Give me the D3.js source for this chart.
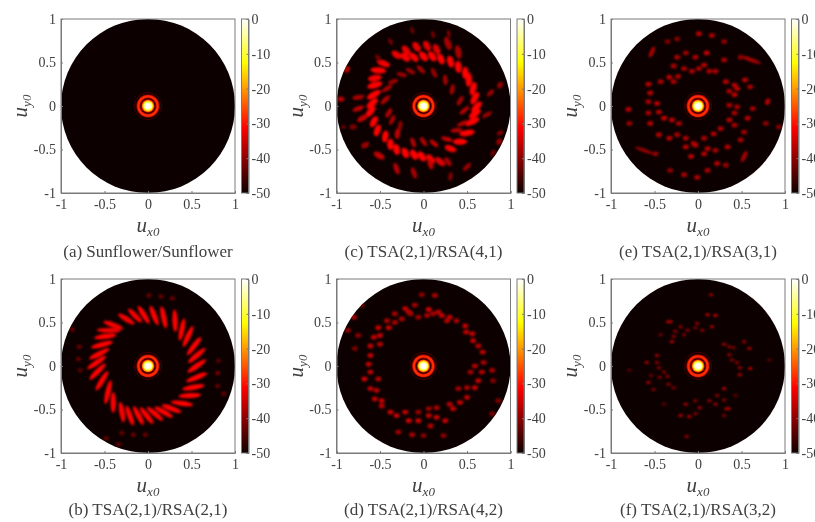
<!DOCTYPE html>
<html>
<head>
<meta charset="utf-8">
<script src="https://cdn.jsdelivr.net/npm/d3@7"></script>
<style>
  html, body { margin: 0; padding: 0; background: #fff; overflow: hidden; }
  svg { display: block; filter: blur(0.35px); font-family: "Liberation Serif", serif; }
</style>
</head>
<body>
<div id="chart"></div>
<script>
// tick labels
const uTicks = [-1, -0.5, 0, 0.5, 1];
const dbTicks = [0, -10, -20, -30, -40, -50];

// main beam and first rings, radius in u and level in dB (same for every panel)
const beamRadius = [0.17, 0.16, 0.15, 0.135, 0.124, 0.108, 0.097, 0.087, 0.078, 0.068, 0.056, 0.044, 0.03];
const beamLevel = [-50, -46, -50, -40, -28, -28, -40, -50, -34, -20, -11, -4, 0];

// grating lobes: [ux, uy, dB, half length, half width, rotation deg]
const lobesA = [];

const lobesB = [
  [0.56, 0.00, -31, 0.13, 0.03, 35], [0.56, 0.12, -31, 0.13, 0.03, 40], [0.53, 0.23, -31, 0.13, 0.03, 52],
  [0.46, 0.34, -31, 0.13, 0.03, 65], [0.39, 0.42, -31, 0.13, 0.03, 78], [0.31, 0.52, -31, 0.13, 0.03, 92],
  [0.18, 0.56, -31, 0.13, 0.03, 102], [0.07, 0.58, -31, 0.12, 0.03, 112], [-0.05, 0.59, -31, 0.12, 0.03, 122],
  [-0.15, 0.58, -32, 0.11, 0.03, 135], [-0.25, 0.54, -32, 0.11, 0.03, 148], [-0.40, 0.47, -32, 0.12, 0.03, 160],
  [-0.45, 0.41, -32, 0.14, 0.026, 178], [-0.49, 0.34, -31, 0.13, 0.03, 8], [-0.53, 0.245, -31, 0.13, 0.03, 15],
  [-0.56, 0.14, -31, 0.13, 0.03, 27], [-0.59, 0.04, -31, 0.13, 0.03, 35], [-0.58, -0.065, -31, 0.13, 0.03, 45],
  [-0.53, -0.17, -31, 0.13, 0.03, 58], [-0.46, -0.30, -31, 0.14, 0.03, 77], [-0.40, -0.42, -31, 0.12, 0.03, 90],
  [-0.30, -0.53, -31, 0.12, 0.03, 100], [-0.21, -0.57, -31, 0.12, 0.03, 110], [-0.11, -0.57, -31, 0.12, 0.03, 118],
  [-0.015, -0.57, -31, 0.12, 0.03, 128], [0.08, -0.55, -31, 0.12, 0.03, 140], [0.18, -0.53, -31, 0.12, 0.03, 150],
  [0.27, -0.49, -31, 0.12, 0.03, 160], [0.39, -0.43, -31, 0.13, 0.03, 172], [0.48, -0.34, -31, 0.13, 0.03, 3],
  [0.52, -0.245, -31, 0.13, 0.03, 10], [0.56, -0.13, -31, 0.13, 0.03, 22],
  [0.01, 0.81, -43], [0.15, 0.80, -43], [0.28, 0.78, -43], [-0.87, 0.42, -43], [-0.79, 0.22, -43], [-0.80, 0.08, -43],
  [0.80, -0.08, -42], [0.80, -0.23, -43], [0.87, -0.32, -43], [-0.17, -0.79, -43], [-0.03, -0.79, -43], [-0.30, -0.77, -43],
  [-0.34, -0.90, -43], [-0.48, -0.83, -43], [-0.78, -0.05, -44], [0.81, 0.06, -44]
];

const lobesC = [
  [-0.20, 0.64, -33, 0.065, 0.038, 130], [-0.08, 0.68, -33, 0.065, 0.038, 125], [0.04, 0.69, -34, 0.065, 0.038, 120],
  [0.15, 0.65, -34, 0.065, 0.038, 115], [0.28, 0.72, -38, 0.08, 0.036, 110], [0.40, 0.62, -38, 0.08, 0.036, 100],
  [-0.31, 0.59, -33, 0.065, 0.038, 145], [-0.21, 0.56, -32, 0.065, 0.038, 140], [-0.11, 0.56, -32, 0.065, 0.038, 135],
  [0, 0.57, -31, 0.065, 0.038, 130], [0.10, 0.57, -31, 0.065, 0.038, 125], [0.20, 0.54, -31, 0.065, 0.038, 115],
  [0.31, 0.51, -31, 0.07, 0.038, 105], [0.40, 0.45, -31, 0.07, 0.038, 95], [0.48, 0.38, -31, 0.07, 0.038, 90],
  [0.52, 0.30, -31, 0.08, 0.036, 85], [0.57, 0.20, -31, 0.08, 0.036, 75], [0.59, 0.09, -31, 0.08, 0.036, 60],
  [0.61, -0.01, -31, 0.08, 0.036, 45], [0.59, -0.09, -31, 0.08, 0.036, 35], [0.56, -0.18, -31, 0.09, 0.036, 25],
  [0.50, -0.31, -31, 0.09, 0.036, 10], [0.42, -0.41, -31, 0.08, 0.036, 0], [0.31, -0.49, -32, 0.07, 0.036, 160],
  [0.19, -0.64, -34, 0.07, 0.036, 140], [0.08, -0.61, -32, 0.065, 0.038, 130], [-0.02, -0.58, -31, 0.065, 0.038, 125],
  [-0.11, -0.56, -31, 0.065, 0.038, 120], [-0.21, -0.54, -31, 0.065, 0.038, 115], [-0.31, -0.50, -31, 0.065, 0.038, 100],
  [-0.38, -0.44, -31, 0.065, 0.038, 90], [-0.44, -0.35, -31, 0.07, 0.036, 80], [-0.53, -0.28, -31, 0.07, 0.036, 70],
  [-0.57, -0.18, -31, 0.07, 0.036, 60], [-0.61, -0.065, -31, 0.08, 0.036, 50], [-0.59, 0.03, -31, 0.08, 0.036, 40],
  [-0.57, 0.13, -31, 0.09, 0.036, 30], [-0.56, 0.24, -31, 0.09, 0.036, 15], [-0.56, 0.32, -32, 0.08, 0.036, 10],
  [-0.52, 0.41, -31, 0.09, 0.036, 175], [-0.46, 0.49, -32, 0.08, 0.036, 160],
  [-0.35, 0.28, -39, 0.06, 0.025, 20], [-0.42, 0.20, -38, 0.07, 0.025, 30], [-0.44, 0.07, -37, 0.07, 0.025, 45],
  [-0.40, -0.08, -37, 0.06, 0.025, 60], [-0.36, -0.16, -38, 0.06, 0.025, 65], [-0.27, -0.23, -40, 0.06, 0.025, 80],
  [-0.30, -0.32, -36, 0.06, 0.03, 85], [-0.12, -0.42, -37, 0.06, 0.025, 110], [0, -0.41, -37, 0.06, 0.025, 125],
  [0.12, -0.43, -36, 0.06, 0.025, 140], [0.27, -0.38, -36, 0.07, 0.025, 165], [0.38, -0.28, -37, 0.07, 0.025, 5],
  [0.45, -0.20, -37, 0.07, 0.025, 25], [0.47, -0.05, -37, 0.07, 0.025, 40], [0.42, 0.06, -38, 0.06, 0.025, 60],
  [0.33, 0.19, -38, 0.06, 0.025, 80], [0.25, 0.30, -38, 0.06, 0.025, 95], [0.12, 0.38, -39, 0.06, 0.025, 115],
  [-0.03, 0.42, -38, 0.06, 0.025, 135], [-0.15, 0.40, -39, 0.06, 0.025, 150], [-0.25, 0.36, -39, 0.06, 0.025, 165],
  [-0.88, 0.42, -37, 0.04, 0.032, 60], [-0.95, 0.08, -37, 0.04, 0.03, 0], [-0.75, 0.10, -38, 0.07, 0.028, 10],
  [-0.75, -0.03, -37, 0.07, 0.028, 20], [-0.70, -0.14, -36, 0.07, 0.032, 30], [-0.81, -0.24, -41, 0.04, 0.03, 0],
  [-0.67, -0.45, -39, 0.05, 0.032, 30], [-0.52, 0.55, -41, 0.05, 0.02, 130], [-0.38, 0.74, -41, 0.04, 0.02, 120],
  [-0.13, 0.87, -42, 0.04, 0.02, 110], [0.11, 0.82, -41, 0.04, 0.02, 100], [0.29, 0.83, -41, 0.04, 0.02, 100],
  [0.77, 0.15, -39, 0.05, 0.025, 45], [0.88, 0.24, -39, 0.04, 0.03, 60], [0.73, -0.10, -39, 0.06, 0.025, 30],
  [0.88, -0.31, -41, 0.04, 0.025, 30], [0.87, -0.41, -39, 0.04, 0.03, 60], [0.80, -0.54, -42, 0.04, 0.025, 60],
  [0.50, -0.70, -39, 0.06, 0.025, 45], [0.31, -0.81, -41, 0.05, 0.025, 80], [-0.11, -0.77, -38, 0.07, 0.028, 110],
  [-0.31, -0.72, -37, 0.07, 0.03, 110], [-0.51, -0.57, -36, 0.07, 0.035, 150], [0.08, -0.67, -36, 0.06, 0.03, 110],
  [0.28, -0.64, -38, 0.06, 0.03, 125], [-0.92, -0.24, -42, 0.03, 0.02, 0]
];

const lobesD = [
  [-0.21, 0.66, -36], [-0.10, 0.70, -38], [0.06, 0.65, -35], [0.17, 0.62, -37], [0.30, 0.56, -36], [-0.17, 0.62, -36],
  [-0.06, 0.56, -39], [-0.33, 0.60, -38], [-0.42, 0.52, -38], [0.13, 0.81, -38], [-0.02, 0.82, -40], [-0.52, 0.44, -36],
  [-0.40, 0.44, -36], [-0.33, 0.50, -38], [-0.25, 0.54, -38], [-0.15, 0.60, -38], [0.04, 0.58, -38], [0.11, 0.60, -38],
  [0.21, 0.58, -36], [0.27, 0.52, -37], [0.38, 0.52, -38], [0.48, 0.46, -36], [0.49, 0.39, -36], [0.56, 0.37, -36],
  [0.57, 0.29, -36], [0.63, 0.23, -37], [0.68, 0.16, -36], [0.69, 0.04, -38], [-0.50, 0.35, -36], [-0.57, 0.33, -36],
  [-0.61, 0.23, -36], [-0.50, 0.25, -37], [-0.61, 0.12, -36], [-0.63, 0.02, -36], [-0.68, -0.15, -35], [-0.61, -0.07, -36],
  [-0.61, -0.26, -36], [-0.54, -0.28, -36], [-0.52, -0.15, -37], [-0.56, -0.38, -36], [-0.48, -0.40, -36], [-0.48, -0.46, -37],
  [-0.38, -0.53, -35], [-0.31, -0.57, -35], [-0.21, -0.53, -36], [-0.17, -0.63, -35], [-0.06, -0.63, -35], [0.06, -0.57, -36],
  [0.15, -0.59, -35], [0.25, -0.63, -36], [0.34, -0.49, -36], [0.42, -0.42, -36], [0.50, -0.36, -36], [0.59, -0.25, -36],
  [0.63, -0.17, -36], [0.67, -0.07, -37], [0.59, 0, -37], [0.54, -0.07, -38], [0.79, -0.05, -38], [0.50, -0.25, -38],
  [0.40, -0.26, -38], [0.30, -0.44, -37], [0.15, -0.48, -38], [0.06, -0.49, -39], [-0.06, -0.53, -39],
  [-0.80, 0.56, -38], [-0.87, 0.41, -39], [-0.75, 0.35, -40], [-0.79, 0.20, -41], [0.86, -0.40, -41], [0.79, -0.55, -41],
  [0.23, -0.80, -40], [0, -0.80, -40], [-0.13, -0.79, -38], [-0.29, -0.76, -38], [-0.71, 0.70, -42], [0.80, -0.17, -41], [0.08, -0.69, -37]
];

const lobesE = [
  [0.01, 0.83, -37], [0.16, 0.81, -38], [-0.35, 0.74, -41], [-0.24, 0.77, -41], [0.30, 0.74, -40],
  [-0.53, 0.62, -38, 0.07, 0.025, 65], [0.10, 0.61, -36], [-0.14, 0.61, -39], [-0.24, 0.56, -38], [-0.03, 0.56, -38],
  [0.30, 0.53, -38], [0.61, 0.53, -38, 0.12, 0.022, 160], [0.49, 0.56, -40], [0.07, 0.47, -37], [0.01, 0.43, -38],
  [-0.07, 0.40, -38], [-0.16, 0.43, -38], [-0.28, 0.46, -38], [-0.33, 0.33, -37], [-0.23, 0.34, -38], [-0.28, 0.28, -38],
  [-0.57, 0.25, -37], [-0.55, 0.15, -37], [-0.43, 0.28, -38], [0.32, 0.28, -37], [0.42, 0.24, -37], [0.54, 0.30, -37],
  [0.45, 0.20, -37], [0.42, 0.13, -37], [0.36, 0.17, -38], [0.60, 0.22, -38], [0.20, 0.40, -38], [0.13, 0.40, -38],
  [-0.80, -0.04, -37], [-0.79, -0.20, -39], [-0.47, 0.03, -37], [-0.45, -0.07, -37], [-0.39, -0.14, -36], [-0.30, -0.16, -37],
  [-0.22, -0.20, -38], [-0.57, 0.05, -38], [-0.57, -0.08, -38], [-0.55, -0.20, -37], [-0.45, -0.33, -37], [-0.33, -0.37, -37],
  [-0.24, -0.33, -38], [-0.14, -0.37, -38], [-0.05, -0.43, -37], [0.07, -0.37, -38], [0.18, -0.32, -37], [0.26, -0.26, -37],
  [0.36, -0.16, -37], [0.42, -0.08, -38], [0.45, -0.01, -38], [0.36, 0.01, -38], [0.57, -0.14, -37], [0.53, -0.30, -38],
  [0.49, -0.39, -38], [0.63, -0.03, -38], [0.80, 0.05, -37, 0.04, 0.028, 70], [0.78, -0.20, -40], [-0.14, -0.47, -37],
  [-0.03, -0.45, -37], [0.11, -0.49, -37], [-0.08, -0.58, -37], [0.07, -0.55, -37], [0.20, -0.51, -38], [0.34, -0.47, -37],
  [-0.49, -0.55, -39], [-0.62, -0.51, -39, 0.11, 0.02, 160], [0.53, -0.58, -38, 0.07, 0.025, 65], [0.22, -0.66, -37],
  [0.11, -0.74, -38], [-0.01, -0.82, -37], [-0.16, -0.79, -38], [-0.32, -0.74, -40], [0.32, -0.68, -39], [0.93, -0.24, -41], [0.42, -0.22, -38]
];

const lobesF = [
  [0.15, 0.82, -40], [0.11, 0.59, -38], [0.20, 0.58, -37], [-0.33, 0.51, -38, 0.04, 0.02, 0], [-0.01, 0.49, -40], [-0.20, 0.45, -41],
  [-0.12, 0.41, -41], [-0.26, 0.40, -41], [0.16, 0.45, -39], [0.05, 0.41, -41], [-0.03, 0.44, -42], [-0.16, 0.36, -42],
  [-0.28, 0.34, -41], [-0.43, 0.36, -43], [-0.30, 0.28, -38], [0.30, 0.25, -40], [0.36, 0.22, -41], [0.41, 0.21, -42],
  [0.53, 0.28, -40], [0.59, 0.20, -39], [0.36, 0.13, -40], [0.39, 0.07, -41], [0.45, 0.04, -41], [0.48, -0.02, -40],
  [0.60, -0.03, -38], [0.48, -0.10, -38], [-0.47, 0.12, -39], [-0.47, 0.04, -41], [-0.45, -0.02, -41], [-0.59, 0.04, -39],
  [-0.79, -0.05, -44], [-0.54, -0.11, -43], [-0.44, -0.13, -41], [-0.39, -0.07, -41], [-0.35, -0.12, -41], [-0.34, -0.21, -41],
  [-0.57, -0.19, -39], [-0.51, -0.27, -41], [-0.28, -0.25, -41], [0.30, -0.26, -37], [0.22, -0.34, -41], [0.30, -0.39, -41],
  [0.34, -0.49, -38, 0.04, 0.02, 0], [0.13, -0.40, -40], [0.20, -0.44, -40], [-0.03, -0.40, -41], [-0.14, -0.44, -39],
  [0.02, -0.48, -39], [-0.20, -0.57, -38], [-0.10, -0.58, -38], [-0.03, -0.55, -41], [0.30, -0.57, -42], [-0.13, -0.81, -40],
  [0.82, 0.07, -44], [0.43, -0.34, -44], [-0.39, -0.44, -44]
];

const panelNames = [
  "(a) Sunflower/Sunflower", "(c) TSA(2,1)/RSA(4,1)", "(e) TSA(2,1)/RSA(3,1)",
  "(b) TSA(2,1)/RSA(2,1)", "(d) TSA(2,1)/RSA(4,2)", "(f) TSA(2,1)/RSA(3,2)"
];
const panelLobes = [lobesA, lobesC, lobesE, lobesB, lobesD, lobesF];
// half axes (u) of lobes that have no size of their own
const lobeRx = [0.03, 0.03, 0.034, 0.03, 0.034, 0.026];
const lobeRy = [0.03, 0.03, 0.028, 0.026, 0.028, 0.02];

// layout in pixels
const boxSize = 174, cbWidth = 7, cbGap = 6.5;
const boxX = [61, 336.5, 611], boxY = [19, 279];
const textColor = "#404040", frameColor = "#7a7a7a";

// MATLAB "hot" on -50..0 dB
const color = d3.scaleLinear()
    .domain([-50, -31.25, -12.5, 0])
    .range(["#0d0000", "#ff0000", "#ffff00", "#ffffff"])
    .clamp(true);

const svg = d3.select("#chart").append("svg")
    .attr("width", 815)
    .attr("height", 522);

const defs = svg.append("defs");
const blur = defs.append("filter").attr("id", "soft")
    .attr("x", "-5%").attr("y", "-5%").attr("width", "110%").attr("height", "110%");
blur.append("feGaussianBlur").attr("stdDeviation", 1.2);
const blurBeam = defs.append("filter").attr("id", "softBeam")
    .attr("x", "-20%").attr("y", "-20%").attr("width", "140%").attr("height", "140%");
blurBeam.append("feGaussianBlur").attr("stdDeviation", 0.5);

const grad = defs.append("linearGradient").attr("id", "hotbar")
    .attr("x1", 0).attr("y1", 1).attr("x2", 0).attr("y2", 0);
[-50, -31.25, -12.5, 0].forEach(function(d) {
    grad.append("stop").attr("offset", (d + 50) / 50).attr("stop-color", color(d));
});

panelNames.forEach(function(name, i) {
    const col = i % 3, row = Math.floor(i / 3);
    const g = svg.append("g")
        .attr("transform", "translate(" + boxX[col] + "," + boxY[row] + ")");

    const x = d3.scaleLinear().domain([-1, 1]).range([0, boxSize]);
    const y = d3.scaleLinear().domain([-1, 1]).range([boxSize, 0]);
    const rr = d3.scaleLinear().domain([0, 2]).range([0, boxSize]);

    defs.append("clipPath").attr("id", "disk" + i).append("circle")
        .attr("cx", x(0)).attr("cy", y(0)).attr("r", rr(1));

    g.append("circle")
        .attr("cx", x(0)).attr("cy", y(0)).attr("r", rr(1))
        .attr("fill", color(-50));

    g.append("g")
        .attr("clip-path", "url(#disk" + i + ")")
        .append("g")
        .attr("filter", "url(#soft)")
        .selectAll("ellipse").data(panelLobes[i]).enter()
        .append("ellipse")
        .attr("cx", d => x(d[0]))
        .attr("cy", d => y(d[1]))
        .attr("rx", d => rr(d[3] === undefined ? lobeRx[i] : d[3]))
        .attr("ry", d => rr(d[4] === undefined ? lobeRy[i] : d[4]))
        .attr("transform", d => "rotate(" + (-(d[5] || 0)) + "," + x(d[0]) + "," + y(d[1]) + ")")
        .attr("fill", d => color(d[2]));

    g.append("g")
        .attr("filter", "url(#softBeam)")
        .selectAll("circle").data(beamRadius).enter()
        .append("circle")
        .attr("cx", x(0))
        .attr("cy", y(0))
        .attr("r", d => rr(d))
        .attr("fill", (d, k) => color(beamLevel[k]));

    // axes
    const xAxis = g.append("g")
        .attr("transform", "translate(0," + boxSize + ")")
        .call(d3.axisBottom(x).tickValues(uTicks).tickSize(-2).tickPadding(6).tickFormat(String));
    const yAxis = g.append("g")
        .call(d3.axisLeft(y).tickValues(uTicks).tickSize(-2).tickPadding(5).tickFormat(String));
    g.append("rect")
        .attr("width", boxSize).attr("height", boxSize)
        .attr("fill", "none").attr("stroke", frameColor);

    // colorbar
    const cb = g.append("g").attr("transform", "translate(" + (boxSize + cbGap) + ",0)");
    const c = d3.scaleLinear().domain([-50, 0]).range([boxSize, 0]);
    cb.append("rect")
        .attr("width", cbWidth).attr("height", boxSize)
        .attr("fill", "url(#hotbar)").attr("stroke", frameColor);
    const cAxis = cb.append("g")
        .attr("transform", "translate(" + cbWidth + ",0)")
        .call(d3.axisRight(c).tickValues(dbTicks).tickSize(-2).tickPadding(3).tickFormat(String));

    [xAxis, yAxis, cAxis].forEach(function(a) {
        a.select(".domain").attr("stroke", frameColor);
        a.selectAll(".tick line").attr("stroke", frameColor);
        a.selectAll("text").attr("fill", textColor).style("font-size", "14px")
            .style("font-family", "'Liberation Serif', serif");
    });

    // axis labels
    const xl = g.append("text")
        .attr("x", x(0)).attr("y", boxSize + 39)
        .attr("text-anchor", "middle").attr("fill", textColor)
        .style("font-size", "21px").style("font-style", "italic");
    xl.append("tspan").text("u");
    xl.append("tspan").attr("dy", 4).style("font-size", "13px").text("x0");

    const yl = g.append("text")
        .attr("transform", "translate(-34," + y(0) + ") rotate(-90)")
        .attr("text-anchor", "middle").attr("fill", textColor)
        .style("font-size", "21px").style("font-style", "italic");
    yl.append("tspan").text("u");
    yl.append("tspan").attr("dy", 4).style("font-size", "13px").text("y0");

    // caption
    g.append("text")
        .attr("x", x(0)).attr("y", boxSize + (row === 0 ? 64 : 62))
        .attr("text-anchor", "middle").attr("fill", textColor)
        .style("font-size", "17px")
        .text(name);
});
</script>
</body>
</html>
